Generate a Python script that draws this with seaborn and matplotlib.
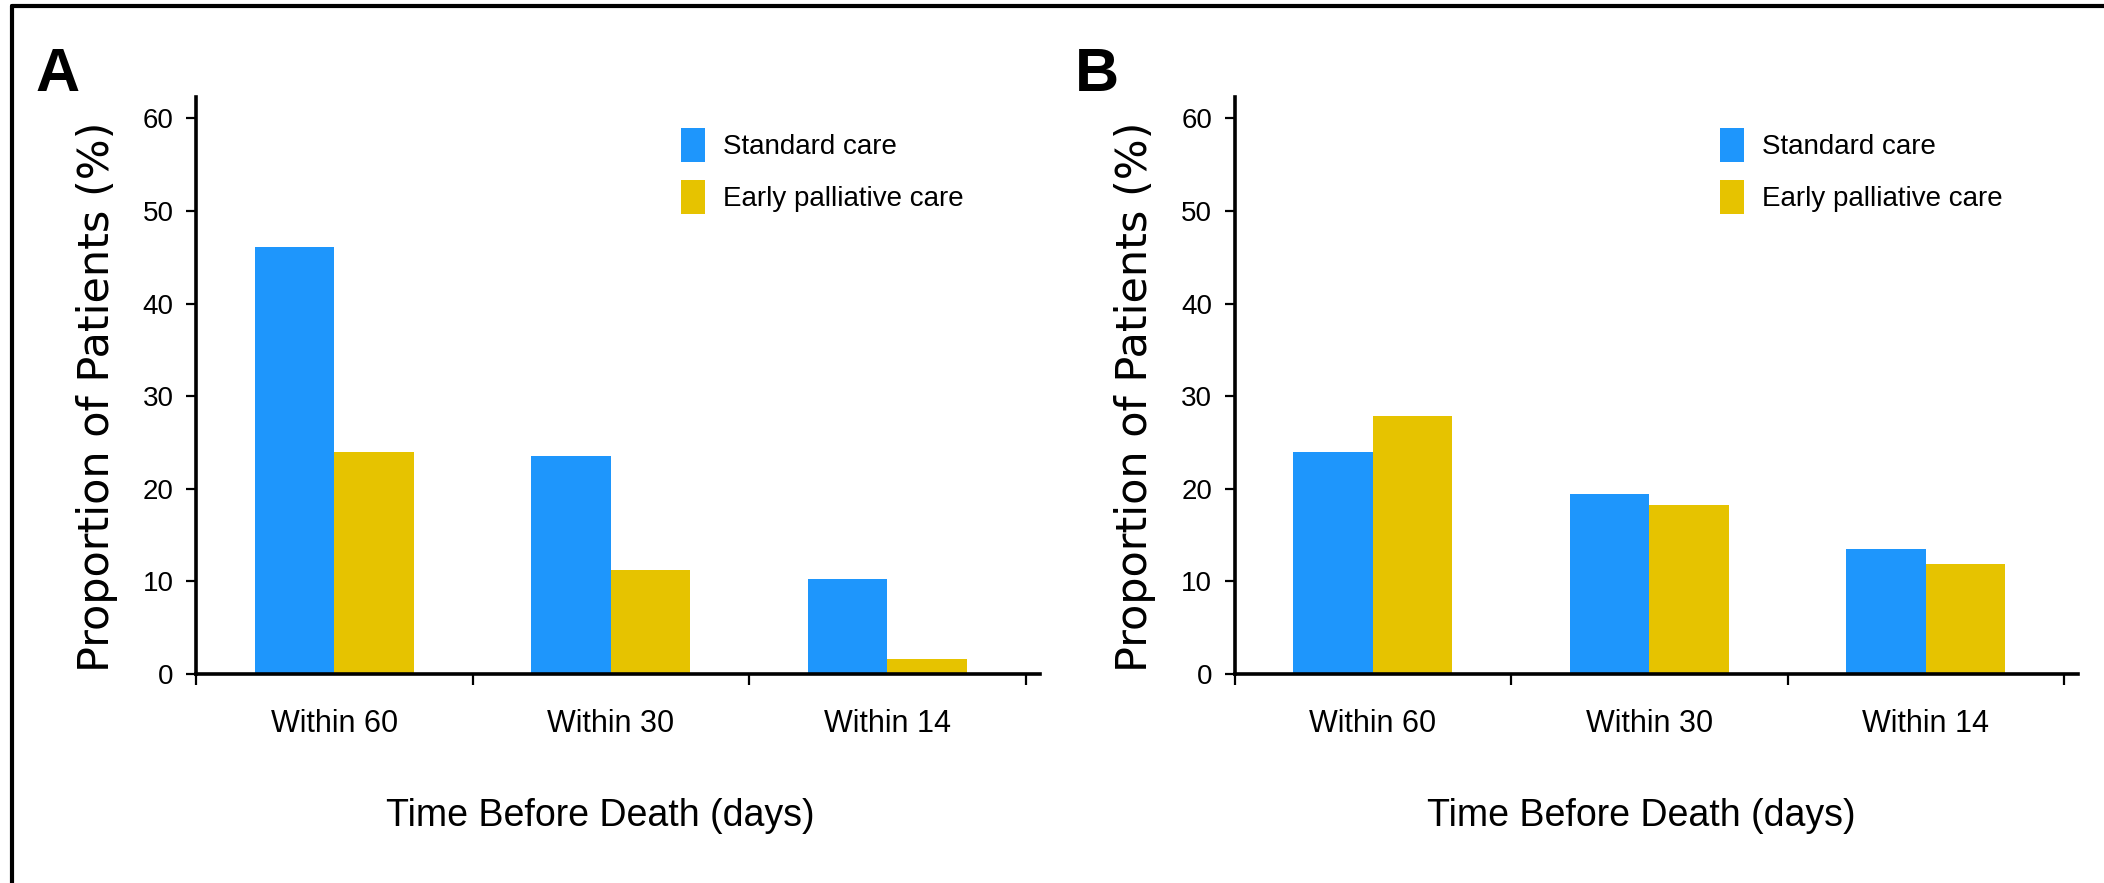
import matplotlib
matplotlib.use("Agg")
import matplotlib.pyplot as plt
import seaborn as sns
import pandas as pd
from matplotlib.patches import Patch
from matplotlib.lines import Line2D

# data
windows = ["Within 60", "Within 30", "Within 14"]
groups = ["Standard care", "Early palliative care"]
standard_a = [46.1, 23.5, 10.3]
palliative_a = [24.0, 11.2, 1.6]
standard_b = [24.0, 19.4, 13.5]
palliative_b = [27.9, 18.2, 11.9]
yticks = [0, 10, 20, 30, 40, 50, 60]

colors = ["#1E96FC", "#E6C300"]

sns.set_theme(style="white")
plt.rcParams["font.family"] = ["Liberation Sans", "DejaVu Sans"]
plt.rcParams["text.color"] = "black"
plt.rcParams["axes.labelcolor"] = "black"
plt.rcParams["xtick.color"] = "black"
plt.rcParams["ytick.color"] = "black"


def make_df(std, pal):
    return pd.DataFrame({
        "window": windows * 2,
        "pct": std + pal,
        "group": [groups[0]] * 3 + [groups[1]] * 3,
    })


fig = plt.figure(figsize=(21.04, 8.83), dpi=100)
W, H = 2104, 883

panels = [
    ("A", make_df(standard_a, palliative_a), 196, 35, 681, 0.479),
    ("B", make_df(standard_b, palliative_b), 1234.5, 1075, 1720, 0.482),
]

for letter, df, left_px, letter_px, leg_px, xl in panels:
    ax = fig.add_axes([left_px / W, (H - 674) / H, 843.5 / W, (674 - 97) / H])
    sns.barplot(data=df, x="window", y="pct", hue="group", order=windows,
                hue_order=groups, palette=colors, saturation=1, width=0.575,
                ax=ax, legend=False, linewidth=0)
    ax.set_xlim(-0.5, 2.55)
    ax.set_ylim(0, 62.3)
    sns.despine(ax=ax)
    for s in ["left", "bottom"]:
        ax.spines[s].set_linewidth(2.6)
        ax.spines[s].set_color("black")
    ax.set_yticks(yticks)
    ax.set_yticklabels([str(t) for t in yticks])
    ax.tick_params(axis="y", direction="out", length=7, width=1.6, pad=9,
                   labelsize=20, left=True)
    ax.set_xticks([0, 1, 2])
    ax.set_xticklabels(windows)
    ax.tick_params(axis="x", which="major", length=0, pad=25, labelsize=22)
    ax.set_xticks([-0.5, 0.5, 1.5, 2.5], minor=True)
    ax.tick_params(axis="x", which="minor", direction="out", length=8,
                   width=1.6, bottom=True)
    ax.set_xlabel("Time Before Death (days)", fontsize=27)
    ax.xaxis.set_label_coords(xl, -0.215)
    ax.set_ylabel("Proportion of Patients (%)", fontsize=31,
                  family="DejaVu Sans")
    ax.yaxis.set_label_coords(-0.093, 0.48)

    handles = [Patch(facecolor=c, edgecolor="none") for c in colors]
    ax.legend(handles, groups, loc="upper left",
              bbox_to_anchor=(leg_px / W, 1 - 128 / H),
              bbox_transform=fig.transFigure, frameon=False, fontsize=20,
              handlelength=0.87, handleheight=1.5, handletextpad=0.65,
              labelspacing=0.66, borderpad=0, borderaxespad=0)

    fig.text(letter_px / W, 1 - 91 / H, letter, fontsize=44, fontweight="bold",
             ha="left", va="baseline")

# cropped frame lines along top and left
fig.add_artist(Line2D([12 / W, 1], [1 - 6 / H, 1 - 6 / H], color="black",
                      linewidth=3, transform=fig.transFigure))
fig.add_artist(Line2D([12 / W, 12 / W], [0, 1 - 6 / H], color="black",
                      linewidth=3, transform=fig.transFigure))

fig.savefig("out.png", dpi=100, facecolor="white")
